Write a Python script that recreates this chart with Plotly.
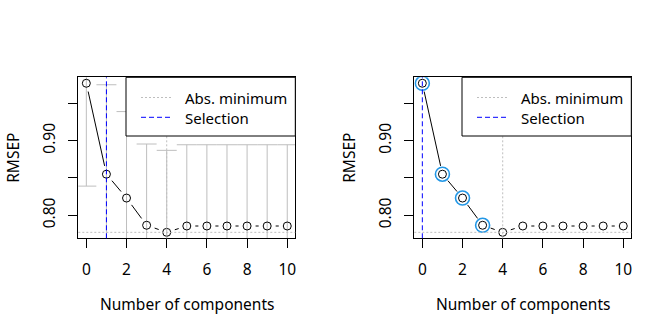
import plotly.graph_objects as go

# Cross-validated RMSEP for 0..10 components
ncomp = list(range(11))
rmsep = [0.977, 0.855, 0.823, 0.7865, 0.777, 0.7855, 0.7855, 0.7855, 0.7855, 0.7855, 0.7855]
rmsep_se = [0.138, 0.120, 0.116, 0.109, 0.110, 0.109, 0.109, 0.109, 0.109, 0.109, 0.109]

# Selected number of components for each criterion
selection_onesigma = 1
selection_random = 0
# Components flagged as significantly worse than the absolute minimum
flagged_random = [0, 1, 2, 3]

xticks = [0, 2, 4, 6, 8, 10]
yticks = [0.80, 0.85, 0.90, 0.95]
ytick_text = ["0.80", "", "0.90", ""]
legend_labels = ["Abs. minimum", "Selection"]

W, H = 672, 336
FONT = "Noto Sans"
FS = 15
GRAY = "#BEBEBE"
BLUE = "#0000FF"
RING = "#2297E6"

# plot-region geometry (px) of the left panel; right panel is offset by half the width
BOX_L, BOX_R, BOX_T, BOX_B = 78.3, 295.3, 77.3, 238.3
PANEL_DX = 336

best = min(range(len(rmsep)), key=lambda i: rmsep[i])
best_val = rmsep[best]

# R-style 4% axis expansion
xr = [min(ncomp) - 0.04 * (max(ncomp) - min(ncomp)), max(ncomp) + 0.04 * (max(ncomp) - min(ncomp))]
ydr = max(rmsep) - min(rmsep)
yr = [min(rmsep) - 0.04 * ydr, max(rmsep) + 0.04 * ydr]

px_x = (BOX_R - BOX_L) / (xr[1] - xr[0])
px_y = (BOX_B - BOX_T) / (yr[1] - yr[0])


def gapped_segments(xs, ys, gap_px=8.5):
    """Connecting segments that stop short of each point (type='b')."""
    sx, sy = [], []
    for i in range(len(xs) - 1):
        dx = (xs[i + 1] - xs[i]) * px_x
        dy = (ys[i + 1] - ys[i]) * px_y
        L = (dx * dx + dy * dy) ** 0.5
        if L <= 2 * gap_px:
            continue
        f = gap_px / L
        ux, uy = (xs[i + 1] - xs[i]), (ys[i + 1] - ys[i])
        sx += [xs[i] + ux * f, xs[i + 1] - ux * f, None]
        sy += [ys[i] + uy * f, ys[i + 1] - uy * f, None]
    return sx, sy


fig = go.Figure()

def px2paper_x(p):
    return p / W


def px2paper_y(p):
    return 1 - p / H


shapes = []
annotations = []

for k, (sel, method) in enumerate([(selection_onesigma, "onesigma"), (selection_random, "random")]):
    off = k * PANEL_DX
    xa = "x" if k == 0 else "x2"
    ya = "y" if k == 0 else "y2"
    axname = "" if k == 0 else "2"

    if method == "onesigma":
        fig.add_trace(go.Scatter(
            x=ncomp, y=rmsep, mode="markers", xaxis=xa, yaxis=ya,
            marker=dict(size=1, color="rgba(0,0,0,0)"),
            error_y=dict(type="data", array=rmsep_se, visible=True,
                         color=GRAY, thickness=1, width=10),
            hoverinfo="skip", showlegend=False))
    else:
        fig.add_trace(go.Scatter(
            x=[ncomp[i] for i in flagged_random], y=[rmsep[i] for i in flagged_random],
            mode="markers", xaxis=xa, yaxis=ya,
            marker=dict(symbol="circle-open", size=14, color=RING, line=dict(width=1.6, color=RING)),
            hoverinfo="skip", showlegend=False))

    sx, sy = gapped_segments(ncomp, rmsep)
    fig.add_trace(go.Scatter(x=sx, y=sy, mode="lines", xaxis=xa, yaxis=ya,
                             line=dict(color="black", width=1),
                             hoverinfo="skip", showlegend=False))
    fig.add_trace(go.Scatter(x=ncomp, y=rmsep, mode="markers", xaxis=xa, yaxis=ya,
                             marker=dict(symbol="circle-open", size=8, color="black",
                                         line=dict(width=1, color="black")),
                             showlegend=False))

    dom = ya + " domain"
    xdom = xa + " domain"
    # absolute minimum guides
    shapes.append(dict(type="line", xref=xdom, yref=ya, x0=0, x1=1, y0=best_val, y1=best_val,
                       line=dict(color=GRAY, width=1, dash="2px,2px"), layer="above"))
    shapes.append(dict(type="line", xref=xa, yref=dom, x0=best, x1=best, y0=0, y1=1,
                       line=dict(color=GRAY, width=1, dash="2px,2px"), layer="above"))
    # selected number of components
    shapes.append(dict(type="line", xref=xa, yref=dom, x0=sel, x1=sel, y0=0, y1=1,
                       line=dict(color=BLUE, width=1, dash="5px,3px"), layer="above"))

    # legend box
    lg_l, lg_r, lg_t, lg_b = 126 + off, BOX_R + off, BOX_T, 136
    shapes.append(dict(type="rect", xref="paper", yref="paper",
                       x0=px2paper_x(lg_l), x1=px2paper_x(lg_r),
                       y0=px2paper_y(lg_b), y1=px2paper_y(lg_t),
                       fillcolor="white", line=dict(color="black", width=1), layer="above"))
    for j, (yy, col, dash) in enumerate([(97.5, GRAY, "2px,2px"), (117.3, BLUE, "5px,3px")]):
        shapes.append(dict(type="line", xref="paper", yref="paper",
                           x0=px2paper_x(141 + off), x1=px2paper_x(171 + off),
                           y0=px2paper_y(yy), y1=px2paper_y(yy),
                           line=dict(color=col, width=1, dash=dash), layer="above"))
        annotations.append(dict(text=legend_labels[j], xref="paper", yref="paper",
                                x=px2paper_x(183 + off), y=px2paper_y(yy + 1),
                                xanchor="left", yanchor="middle", showarrow=False,
                                font=dict(family=FONT, size=FS, color="black")))

    # axis titles
    annotations.append(dict(text="Number of components", xref="paper", yref="paper",
                            x=px2paper_x((BOX_L + BOX_R) / 2 + off), y=px2paper_y(304),
                            xanchor="center", yanchor="middle", showarrow=False,
                            font=dict(family=FONT, size=FS + 0.5, color="black")))
    annotations.append(dict(text="RMSEP", xref="paper", yref="paper", textangle=-90,
                            x=px2paper_x(13 + off), y=px2paper_y((BOX_T + BOX_B) / 2),
                            xanchor="center", yanchor="middle", showarrow=False,
                            font=dict(family=FONT, size=FS + 0.5, color="black")))

    axis_common = dict(showline=True, linecolor="black", linewidth=1, mirror=True,
                       showgrid=False, zeroline=False, ticks="outside", ticklen=9,
                       tickcolor="black", tickwidth=1,
                       tickfont=dict(family=FONT, size=FS + 0.5, color="black"))
    fig.update_layout(**{
        "xaxis" + axname: dict(domain=[px2paper_x(BOX_L + off), px2paper_x(BOX_R + off)],
                               range=xr, tickvals=xticks, ticktext=[str(t) for t in xticks],
                               anchor=ya, ticklabelstandoff=8, **axis_common),
        "yaxis" + axname: dict(domain=[px2paper_y(BOX_B), px2paper_y(BOX_T)],
                               range=yr, tickvals=yticks, ticktext=ytick_text,
                               tickangle=-90, anchor=xa, ticklabelstandoff=7, **axis_common),
    })

fig.update_layout(width=W, height=H, margin=dict(l=0, r=0, t=0, b=0),
                  paper_bgcolor="white", plot_bgcolor="white",
                  shapes=shapes, annotations=annotations, showlegend=False)

fig.write_html("out.html")
